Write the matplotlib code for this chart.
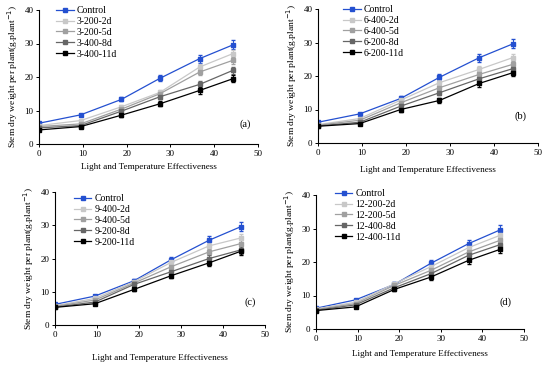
import matplotlib
matplotlib.use("Agg")
import matplotlib.pyplot as plt
from matplotlib.lines import Line2D

plt.rcParams['font.family'] = ['Liberation Serif', 'DejaVu Serif']

lte = [0, 9.5, 18.8, 27.6, 36.7, 44.3]

control = [6.2, 8.7, 13.3, 19.6, 25.5, 29.6]
control_err = [0.3, 0.4, 0.6, 0.9, 1.2, 1.3]

labels_a = ["3-200-2d", "3-200-5d", "3-400-8d", "3-400-11d"]
vals_a = [
    [5.5, 7.0, 11.1, 15.4, 23.0, 27.0],
    [5.2, 6.0, 10.4, 15.0, 21.5, 25.0],
    [4.8, 5.5, 9.8, 14.1, 17.8, 22.0],
    [4.2, 5.2, 8.6, 12.0, 16.0, 19.5],
]
labels_b = ["6-400-2d", "6-400-5d", "6-200-8d", "6-200-11d"]
vals_b = [
    [5.5, 7.3, 12.8, 18.0, 22.0, 25.5],
    [5.3, 6.8, 12.0, 16.5, 20.5, 23.5],
    [5.1, 6.2, 11.0, 15.0, 19.2, 22.2],
    [5.0, 5.8, 10.0, 12.7, 17.8, 21.0],
]
labels_c = ["9-400-2d", "9-400-5d", "9-200-8d", "9-200-11d"]
vals_c = [
    [5.8, 8.0, 13.0, 18.8, 23.8, 26.2],
    [5.6, 7.5, 12.6, 17.5, 22.0, 24.5],
    [5.4, 6.9, 12.2, 16.0, 20.0, 22.6],
    [5.3, 6.4, 10.7, 14.8, 18.7, 22.2],
]
labels_d = ["12-200-2d", "12-200-5d", "12-400-8d", "12-400-11d"]
vals_d = [
    [6.0, 8.0, 13.5, 18.6, 24.3, 28.0],
    [5.8, 7.6, 13.0, 17.5, 23.0, 26.5],
    [5.6, 7.2, 12.3, 16.5, 22.0, 25.2],
    [5.5, 6.6, 11.8, 15.5, 20.5, 23.8],
]
treat_err = [0.3, 0.4, 0.6, 0.8, 1.0, 1.1]

panel_tags = ["(a)", "(b)", "(c)", "(d)"]
tag_pos = [(47, 6.0), (46, 8.0), (46.5, 6.8), (45.5, 8.0)]

grey_colors = ["#c8c8c8", "#a0a0a0", "#666666", "#000000"]
blue = "#2450d0"

fig = plt.figure(figsize=(5.5, 3.69), dpi=100)
rects = [
    [39/550, 1-144/369, 219/550, 134/369],
    [318/550, 1-143/369, 220/550, 134/369],
    [55/550, 1-325/369, 210/550, 133/369],
    [316/550, 1-329/369, 208/550, 134/369],
]
legend_anchor = [(0.078, 1.03), (0.114, 1.03), (0.09, 0.985), (0.091, 1.045)]
xlabel_pad = [4, 7, 11, 5]

for i, (labels, vals) in enumerate([(labels_a, vals_a), (labels_b, vals_b),
                                     (labels_c, vals_c), (labels_d, vals_d)]):
    ax = fig.add_axes(rects[i])
    handles = []
    ax.errorbar(lte, control, yerr=control_err, color=blue, marker='s',
                markersize=2.2, lw=0.9, elinewidth=0.7, capsize=1.6)
    handles.append(Line2D([], [], color=blue, marker='s', markersize=2.2, lw=0.9))
    for lab, v, c in zip(labels, vals, grey_colors):
        ax.errorbar(lte, v, yerr=treat_err, color=c, marker='s',
                    markersize=2.2, lw=0.9, elinewidth=0.7, capsize=1.6)
        handles.append(Line2D([], [], color=c, marker='s', markersize=2.2, lw=0.9))
    ax.set_xlim(0, 50)
    ax.set_ylim(0, 40)
    ax.set_xticks([0, 10, 20, 30, 40, 50])
    ax.set_yticks([0, 10, 20, 30, 40])
    for s in ['top', 'right']:
        ax.spines[s].set_visible(False)
    for s in ['left', 'bottom']:
        ax.spines[s].set_linewidth(0.8)
    ax.tick_params(labelsize=6.5, length=2, width=0.7, direction='out', pad=2)
    ax.set_xlabel("Light and Temperature Effectiveness", fontsize=6.6, labelpad=xlabel_pad[i])
    ax.set_ylabel("Stem dry weight per plant(g.plant$^{-1}$)", fontsize=6.8, labelpad=3)
    ax.text(tag_pos[i][0], tag_pos[i][1], panel_tags[i], fontsize=7.5, ha='center', va='center')
    ax.legend(handles, ["Control"] + labels, loc='upper left',
              bbox_to_anchor=legend_anchor[i], frameon=False,
              fontsize=7, handlelength=1.8, handletextpad=0.3,
              labelspacing=0.2, borderaxespad=0, borderpad=0)

fig.savefig("out.png", dpi=100)
